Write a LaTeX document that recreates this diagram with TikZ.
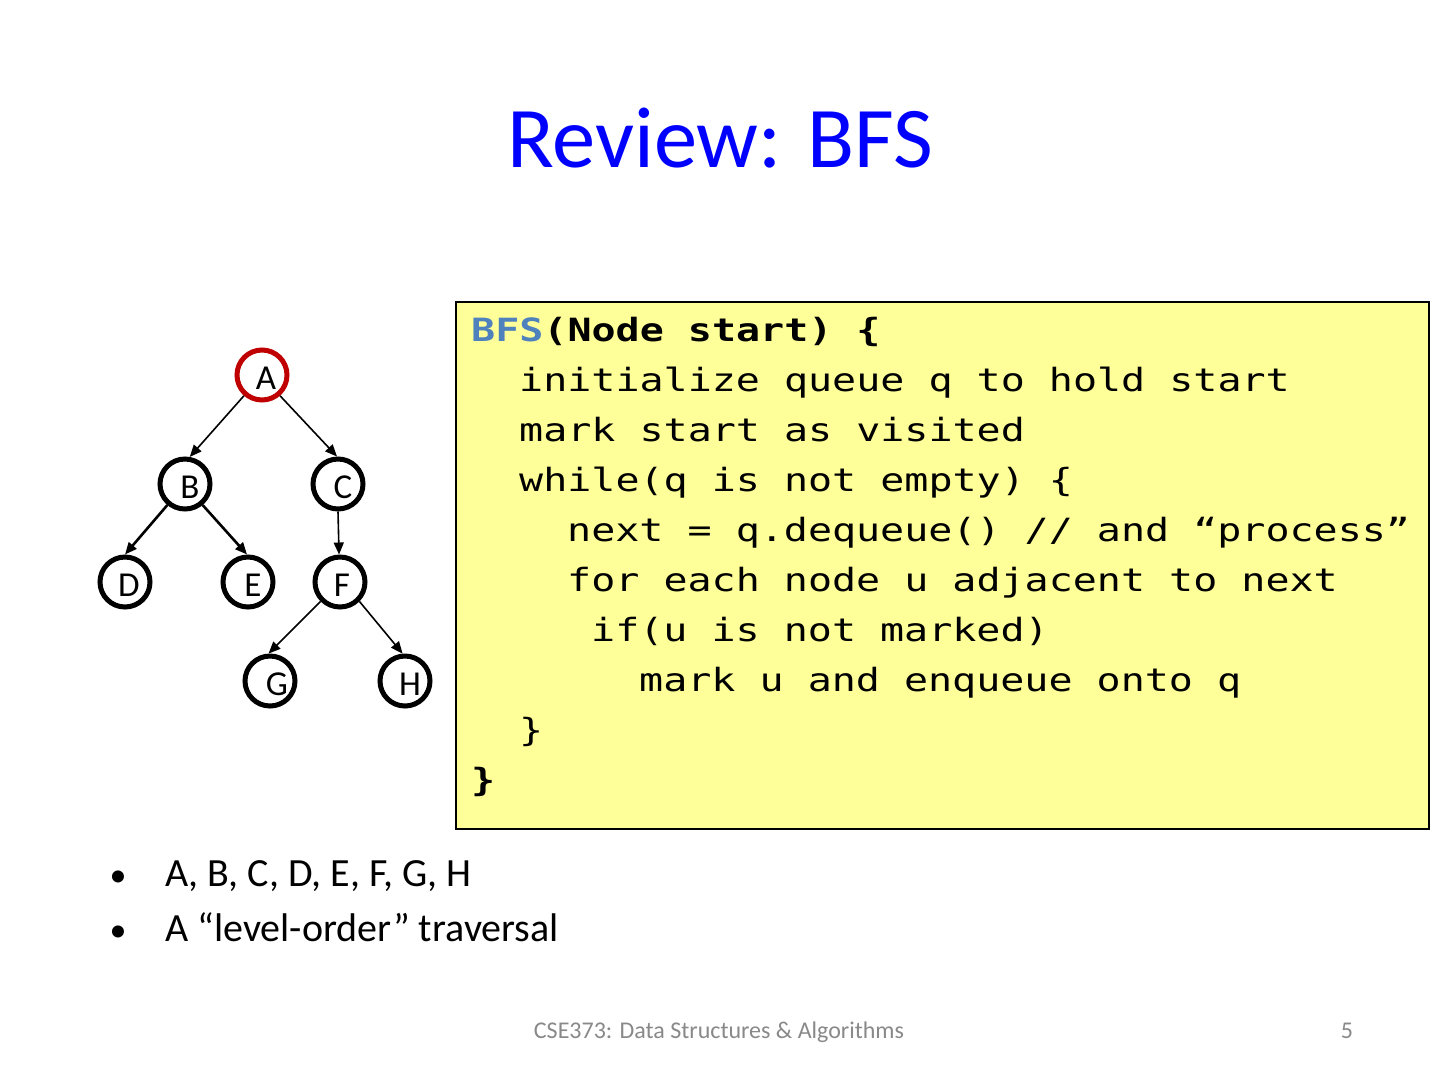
\documentclass[tikz,border=0pt]{standalone}
\usepackage{fontspec}
\setmainfont{Carlito}
\newfontfamily\codefont[FakeStretch=1.25]{DejaVu Sans Mono}
\usetikzlibrary{arrows.meta}
\definecolor{titleblue}{RGB}{0,0,255}
\definecolor{bfsblue}{RGB}{79,129,189}
\definecolor{codeyellow}{RGB}{255,255,153}
\definecolor{startred}{RGB}{192,0,0}
\definecolor{footgray}{RGB}{137,137,137}
\tikzset{
  tnode/.style={circle,draw=black,line width=5pt,minimum size=50pt,inner sep=0pt,fill=white},
  startnode/.style={tnode,draw=startred},
  tlab/.style={inner sep=0pt,font=\fontsize{35}{40}\selectfont},
  edge/.style={draw=black,line width=1.6pt,-{Triangle[length=12pt,width=10pt]}},
  thickedge/.style={edge,line width=2.6pt},
  codeline/.style={anchor=base west,inner sep=0pt,font=\codefont\fontsize{32}{40}\selectfont},
  bullettext/.style={anchor=base west,inner sep=0pt,font=\fontsize{40}{46}\selectfont},
}
\begin{document}
\begin{tikzpicture}[x=1pt,y=-1pt]
\useasboundingbox (0,0) rectangle (1440,1080);
\fill[white] (0,0) rectangle (1440,1080);
% title
\node[anchor=base,inner sep=0pt,text=titleblue,font=\fontsize{86.5}{90}\selectfont] (title) at (720,167) {Review: BFS};
% code box
\node[draw=black,line width=2pt,fill=codeyellow,minimum width=973pt,minimum height=527pt,inner sep=0pt,anchor=north west] (box) at (455,301) {};
\node[codeline] (c1) at (471,341) {\bfseries\textcolor{bfsblue}{BFS}(Node start) \{};
\node[codeline] (c2) at (519,391) {initialize queue q to hold start};
\node[codeline] (c3) at (519,441) {mark start as visited};
\node[codeline] (c4) at (519,491) {while(q is not empty) \{};
\node[codeline] (c5) at (567,541) {next = q.dequeue() // and “process”};
\node[codeline] (c6) at (567,591) {for each node u adjacent to next};
\node[codeline] (c7) at (591,641) {if(u is not marked)};
\node[codeline] (c8) at (639,691) {mark u and enqueue onto q};
\node[codeline] (c9) at (519,741) {\}};
\node[codeline] (c10) at (471,791) {\bfseries\}};
% tree
\node[startnode] (A) at (262,375) {};
\node[tnode] (B) at (185,484) {};
\node[tnode] (C) at (338,484) {};
\node[tnode] (D) at (125,582) {};
\node[tnode] (E) at (248,582) {};
\node[tnode] (F) at (340,582) {};
\node[tnode] (G) at (270,681) {};
\node[tnode] (H) at (405,681) {};
\node[tlab] (Al) at (266,378) {A};
\node[tlab] (Bl) at (190,487) {B};
\node[tlab] (Cl) at (343,487) {C};
\node[tlab] (Dl) at (129,585) {D};
\node[tlab] (El) at (253,585) {E};
\node[tlab] (Fl) at (342,585) {F};
\node[tlab] (Gl) at (277,684) {G};
\node[tlab] (Hl) at (410,684) {H};
\draw[edge] (A.229) -- (B.80);
\draw[edge] (A.-49) -- (C.92);
\draw[thickedge] (B.230) -- (D.90);
\draw[thickedge] (B.-50) -- (E.92);
\draw[edge] (C.south) -- (F.92);
\draw[edge] (F.225) -- (G.93);
\draw[edge] (F.-45) -- (H.95);
% bullets
\node[anchor=base,inner sep=0pt,font=\fontsize{34}{40}\selectfont] (b1) at (118,886) {•};
\node[bullettext] (t1) at (165,886) {A, B, C, D, E, F, G, H};
\node[anchor=base,inner sep=0pt,font=\fontsize{34}{40}\selectfont] (b2) at (118,941) {•};
\node[bullettext] (t2) at (165,941) {A “level-order” traversal};
% footer
\node[anchor=base,inner sep=0pt,text=footgray,font=\fontsize{24}{28}\selectfont] (foot) at (719,1038) {CSE373: Data Structures \& Algorithms};
\node[anchor=base,inner sep=0pt,text=footgray,font=\fontsize{24}{28}\selectfont] (page) at (1347,1038) {5};
\end{tikzpicture}
\end{document}
